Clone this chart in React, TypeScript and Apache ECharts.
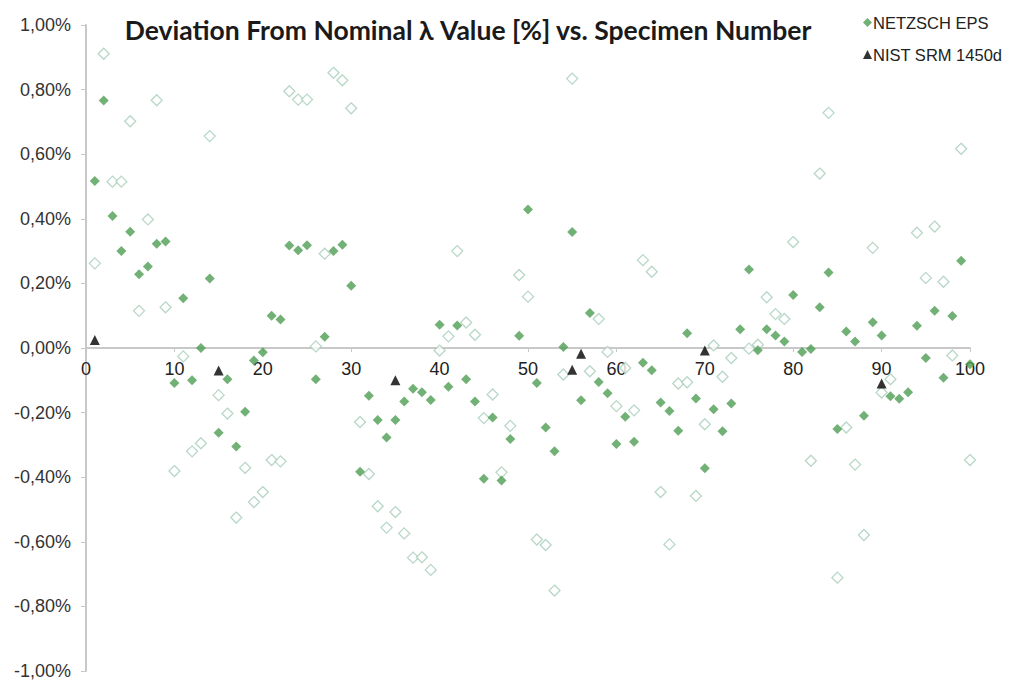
import React, { useEffect, useRef } from "react";
import * as echarts from "echarts";

// Specimen numbers 1..100
const specimens: number[] = Array.from({ length: 100 }, (_, i) => i + 1);

// NETZSCH EPS (filled diamonds), deviation in %
const netzschFilled: (number | null)[] = [
  0.517, 0.766, 0.409, 0.30, 0.36, 0.228, 0.252, 0.323, 0.33, -0.108,
  0.154, -0.10, 0.0, 0.215, -0.262, -0.097, -0.305, -0.197, -0.039, -0.013,
  0.10, 0.088, 0.317, 0.303, 0.318, -0.097, 0.035, 0.30, 0.32, 0.193,
  -0.383, -0.148, -0.223, -0.277, -0.223, -0.166, -0.126, -0.137, -0.161, 0.072,
  -0.12, 0.07, -0.097, -0.166, -0.405, -0.215, -0.41, -0.282, 0.038, 0.429,
  -0.108, -0.246, -0.32, 0.003, 0.359, -0.162, 0.108, -0.105, -0.14, -0.297,
  -0.213, -0.29, -0.046, -0.069, -0.169, -0.195, -0.256, 0.046, -0.156, -0.372,
  -0.19, -0.258, -0.172, 0.058, 0.243, -0.007, 0.058, 0.039, 0.02, 0.164,
  -0.012, -0.003, 0.126, 0.234, -0.251, 0.051, 0.02, -0.21, 0.08, 0.039,
  -0.149, -0.157, -0.137, 0.069, -0.031, 0.115, -0.092, 0.099, 0.27, -0.05,
];

// Second measurement set (hollow diamonds), deviation in %
const netzschHollow: (number | null)[] = [
  0.262, 0.911, 0.515, 0.515, 0.702, 0.115, 0.398, 0.767, 0.126, -0.381,
  -0.026, -0.32, -0.295, 0.656, -0.146, -0.203, -0.525, -0.371, -0.477, -0.446,
  -0.347, -0.351, 0.795, 0.769, 0.769, 0.005, 0.292, 0.852, 0.829, 0.742,
  -0.229, -0.39, -0.49, -0.556, -0.508, -0.574, -0.649, -0.648, -0.687, -0.008,
  0.036, 0.30, 0.079, 0.041, -0.217, -0.144, -0.385, -0.241, 0.226, 0.159,
  -0.593, -0.61, -0.751, -0.082, 0.834, null, -0.072, 0.09, -0.012, -0.18,
  -0.062, -0.193, 0.272, 0.236, -0.446, -0.608, -0.11, -0.106, -0.458, -0.236,
  0.008, -0.089, -0.031, null, -0.002, 0.01, 0.157, 0.105, 0.09, 0.328,
  null, -0.349, 0.54, 0.728, -0.711, -0.246, -0.361, -0.579, 0.31, -0.138,
  -0.097, null, null, 0.357, 0.217, 0.376, 0.205, -0.023, 0.617, -0.347,
];

// NIST SRM 1450d (black triangles)
const nistSpecimens: number[] = [1, 15, 35, 55, 56, 70, 90];
const nistValues: number[] = [0.025, -0.07, -0.10, -0.067, -0.018, -0.008, -0.11];

const titleText = "Deviation From Nominal \u03bb Value [%] vs. Specimen Number";
const seriesNames = ["NETZSCH EPS", "NIST SRM 1450d"];

export default function App() {
  const ref = useRef<HTMLDivElement>(null);

  useEffect(() => {
    if (!ref.current) return;
    const chart = echarts.init(ref.current, null, { renderer: "svg" });

    const pair = (xs: number[], ys: (number | null)[]) =>
      xs.map((x, i) => [x, ys[i]]).filter((p) => p[1] !== null);

    const gridTop = 25;
    const gridBottom = 12;
    const gridHeight = 683 - gridTop - gridBottom;

    chart.setOption({
      animation: false,
      backgroundColor: "#ffffff",
      title: {
        text: titleText,
        left: 463,
        textAlign: "center",
        top: 11,
        textStyle: {
          fontFamily: "Lato",
          fontWeight: "bold",
          fontSize: 26.5,
          color: "#1a1a1a",
        },
      },
      legend: {
        data: [
          { name: seriesNames[0], icon: "diamond" },
          { name: seriesNames[1], icon: "triangle" },
        ],
        orient: "vertical",
        left: 858,
        top: 9,
        itemGap: 15,
        itemWidth: 9,
        itemHeight: 9,
        textStyle: {
          fontFamily: "Liberation Sans, Arial",
          fontSize: 16.5,
          color: "#222",
          padding: [0, 0, 0, -4],
        },
      },
      grid: {
        left: 86,
        right: 40,
        top: gridTop,
        bottom: gridBottom,
        containLabel: false,
        outerBoundsMode: "none",
      },
      xAxis: {
        type: "value",
        min: 0,
        max: 100,
        interval: 10,
        offset: -gridHeight / 2,
        axisLine: { onZero: false, lineStyle: { color: "#c8c8c8", width: 2 } },
        axisTick: { show: true, length: 4, inside: false, lineStyle: { color: "#c8c8c8" } },
        axisLabel: {
          fontFamily: "Liberation Sans, Arial",
          fontSize: 18,
          color: "#222",
          margin: 12,
        },
        splitLine: { show: false },
      },
      yAxis: {
        type: "value",
        min: -1,
        max: 1,
        interval: 0.2,
        axisLine: { show: true, onZero: false, lineStyle: { color: "#c8c8c8", width: 2 } },
        axisTick: { show: true, length: 5, lineStyle: { color: "#c8c8c8" } },
        axisLabel: {
          fontFamily: "Liberation Sans, Arial",
          fontSize: 18,
          color: "#333",
          margin: 15,
          formatter: (v: number) => v.toFixed(2).replace(".", ",") + "%",
        },
        splitLine: { show: false },
      },
      series: [
        {
          name: "hollow",
          type: "scatter",
          symbol: "diamond",
          symbolSize: 11,
          data: pair(specimens, netzschHollow),
          itemStyle: { color: "#ffffff", borderColor: "#a6cdb8", borderWidth: 1.3 },
          z: 2,
        },
        {
          name: seriesNames[0],
          type: "scatter",
          symbol: "diamond",
          symbolSize: 10,
          data: pair(specimens, netzschFilled),
          itemStyle: { color: "#4f9e52" },
          z: 3,
        },
        {
          name: seriesNames[1],
          type: "scatter",
          symbol: "triangle",
          symbolSize: 10,
          data: pair(nistSpecimens, nistValues),
          itemStyle: { color: "#000000" },
          z: 4,
        },
      ],
    });

    return () => chart.dispose();
  }, []);

  return (
    <div
      ref={ref}
      style={{ width: 1010, height: 683, position: "absolute", left: 0, top: 0 }}
    />
  );
}
